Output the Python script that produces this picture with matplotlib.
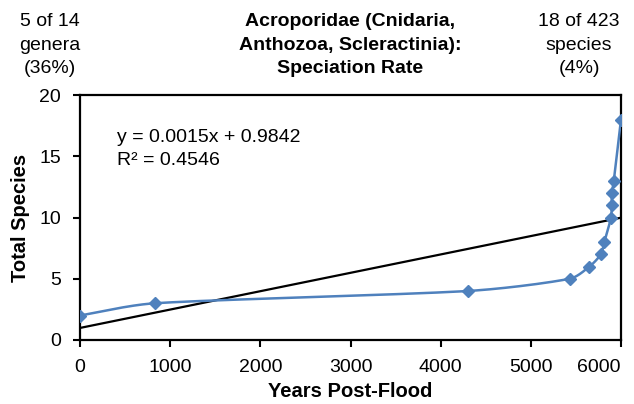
import numpy as np
import matplotlib
matplotlib.use('Agg')
import matplotlib.pyplot as plt

plt.rcParams['font.family'] = ['Liberation Sans', 'DejaVu Sans']

# Data
years = [0, 830, 4300, 5430, 5650, 5775, 5815, 5890, 5895, 5900, 5920, 6000]
species = [2, 3, 4, 5, 6, 7, 8, 10, 11, 12, 13, 18]
slope, intercept = 0.0015, 0.9842
x_ticks = [0, 1000, 2000, 3000, 4000, 5000, 6000]
y_ticks = [0, 5, 10, 15, 20]

blue = '#4F81BD'
W, H = 634, 404
left, right, top, bottom = 80, 621, 95, 340


def smooth(xs, ys, sx, sy, n=40):
    # Excel-like smoothed line: Catmull-Rom Bezier with clamped handles,
    # worked out in pixel space (sx, sy = pixels per data unit)
    p = np.column_stack([np.asarray(xs) * sx, np.asarray(ys) * sy]).astype(float)
    ext = np.vstack([p[0], p, p[-1]])
    tang = (ext[2:] - ext[:-2]) / 6
    out = []
    for i in range(len(p) - 1):
        seg_len = np.hypot(*(p[i + 1] - p[i]))
        t1, t2 = tang[i].copy(), tang[i + 1].copy()
        for t in (t1, t2):
            L = np.hypot(*t)
            lim = seg_len / 3
            if L > lim and L > 0:
                t *= lim / L
        c1 = p[i] + t1
        c2 = p[i + 1] - t2
        u = np.linspace(0, 1, n)[:, None]
        out.append((1 - u) ** 3 * p[i] + 3 * (1 - u) ** 2 * u * c1
                   + 3 * (1 - u) * u ** 2 * c2 + u ** 3 * p[i + 1])
    out = np.vstack(out)
    return out[:, 0] / sx, out[:, 1] / sy


fig = plt.figure(figsize=(W / 100, H / 100), dpi=100)
ax = fig.add_axes([left / W, 1 - bottom / H, (right - left) / W, (bottom - top) / H])

cx, cy = smooth(years, species, (right - left) / 6000, (bottom - top) / 20)
ax.plot(cx, cy, color=blue, linewidth=1.8, zorder=3)
ax.plot(years, species, linestyle='none', marker='D', markersize=6,
        color=blue, zorder=4)

tx = np.array([x_ticks[0], x_ticks[-1]])
ax.plot(tx, slope * tx + intercept, color='black', linewidth=1.6, zorder=2)

ax.set_xlim(0, 6000)
ax.set_ylim(0, 20)
ax.set_xticks(x_ticks)
ax.set_yticks(y_ticks)
ax.tick_params(axis='both', direction='out', length=5, width=1.5,
               labelsize=14, colors='black')
ax.tick_params(axis='x', pad=9)
ax.tick_params(axis='y', pad=8.5)
ax.get_xticklabels()[-1].set_ha('right')
for s in ax.spines.values():
    s.set_linewidth(1.6)
    s.set_color('black')

ax.set_xlabel('Years Post-Flood', fontsize=14.5, fontweight='bold', labelpad=4)
ax.set_ylabel('Total Species', fontsize=14.5, fontweight='bold', labelpad=7)

# va='baseline' anchors the last line of a multi-line text
ax.text(117 / W, 1 - 165 / H, 'y = 0.0015x + 0.9842\nR² = 0.4546',
        transform=fig.transFigure, fontsize=14, va='baseline', ha='left',
        linespacing=1.5)

base = 1 - 73 / H
fig.text(50 / W, base, '5 of 14\ngenera\n(36%)', ha='center', va='baseline',
         fontsize=14, linespacing=1.5)
fig.text(350 / W, base, 'Acroporidae (Cnidaria,\nAnthozoa, Scleractinia):\nSpeciation Rate',
         ha='center', va='baseline', fontsize=14, fontweight='bold', linespacing=1.5)
fig.text(579 / W, base, '18 of 423\nspecies\n(4%)', ha='center', va='baseline',
         fontsize=14, linespacing=1.5)

fig.savefig('out.png', dpi=100)
